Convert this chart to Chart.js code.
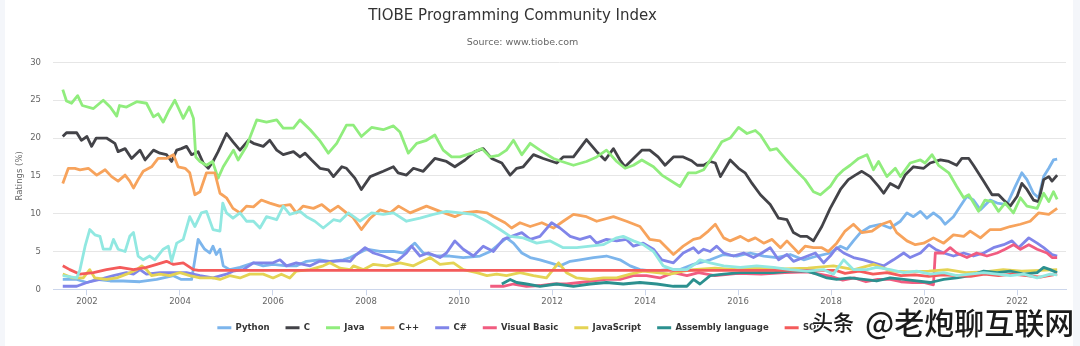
<!DOCTYPE html>
<html>
  <head>
    <meta charset="UTF-8" />
    <title>TIOBE Programming Community Index</title>
    <script src="https://cdn.jsdelivr.net/npm/chart.js"></script>
    <style>
      body { margin:0; background:#f4f6fa; }
      #card { position:absolute; left:5px; top:0; width:1068px; height:346px; background:#fff; }
      .mark { position:absolute; font-family:"Noto Sans CJK SC"; font-weight:500; color:#1b1b1b; line-height:1; white-space:nowrap;
              text-shadow: 0 0 2px #fff, 1px 1px 0 #fff, -1px -1px 0 #fff; }
    </style>
  </head>
  <body>
    <div id="card"><canvas id="tiobe" width="1068" height="346"></canvas></div>
    <div class="mark" style="left:812px;top:311px;font-size:21px">头条</div>
    <div class="mark" style="left:865px;top:306px;font-size:30px">@老炮聊互联网</div>

    <script>
      // monthly ratings (%) as [year, rating]
      var python = [[2001.48,1.3],[2001.78,1.3],[2002.0,0.9],[2002.2,1.3],[2002.5,1.1],[2002.78,1.1],[2003.14,1.0],[2003.5,1.3],[2003.86,1.8],[2004.03,1.3],[2004.25,1.3],[2004.32,3.9],[2004.39,6.6],[2004.53,5.3],[2004.64,4.8],[2004.71,5.7],[2004.78,4.6],[2004.86,5.3],[2004.93,3.1],[2005.07,2.6],[2005.29,2.9],[2005.58,3.5],[2005.79,3.1],[2006.0,3.3],[2006.29,3.1],[2006.5,3.1],[2006.72,3.7],[2007.0,3.9],[2007.22,3.7],[2007.51,3.9],[2007.66,4.2],[2008.01,5.3],[2008.3,5.0],[2008.59,5.0],[2008.8,4.8],[2009.05,6.1],[2009.23,4.8],[2009.52,4.4],[2009.8,4.4],[2010.09,4.2],[2010.45,4.4],[2010.67,5.0],[2010.81,5.7],[2011.02,6.8],[2011.17,6.1],[2011.35,4.8],[2011.53,4.2],[2011.74,3.9],[2011.96,3.5],[2012.17,3.1],[2012.39,3.7],[2012.6,3.9],[2012.89,4.2],[2013.17,4.4],[2013.46,3.9],[2013.68,3.1],[2013.89,2.6],[2014.18,2.4],[2014.47,2.6],[2014.75,2.6],[2015.04,3.3],[2015.4,3.9],[2015.69,4.6],[2015.97,4.4],[2016.26,4.8],[2016.55,4.4],[2016.83,4.2],[2017.12,4.6],[2017.41,3.9],[2017.7,4.4],[2017.98,4.8],[2018.2,5.7],[2018.34,5.3],[2018.48,6.4],[2018.63,7.5],[2018.84,8.3],[2019.06,8.6],[2019.27,8.1],[2019.49,9.0],[2019.63,10.1],[2019.77,9.6],[2019.92,10.3],[2020.06,9.4],[2020.2,10.1],[2020.35,9.4],[2020.45,8.6],[2020.63,9.6],[2020.78,11.0],[2020.92,12.3],[2021.06,11.8],[2021.21,10.5],[2021.42,11.8],[2021.57,11.4],[2021.78,11.2],[2021.96,13.6],[2022.1,15.4],[2022.21,14.5],[2022.35,12.7],[2022.46,12.1],[2022.57,14.9],[2022.68,16.0],[2022.78,17.1],[2022.86,17.2]];

      var langC = [[2001.48,20.2],[2001.56,20.7],[2001.78,20.7],[2001.88,19.7],[2002.0,20.2],[2002.1,18.9],[2002.2,20.0],[2002.42,20.0],[2002.6,19.3],[2002.67,18.2],[2002.82,18.6],[2002.96,17.3],[2003.14,18.4],[2003.25,17.1],[2003.43,18.4],[2003.57,18.0],[2003.71,17.8],[2003.82,16.9],[2003.93,18.4],[2004.03,18.6],[2004.14,18.9],[2004.25,17.8],[2004.39,18.2],[2004.5,16.7],[2004.61,16.0],[2004.71,16.9],[2004.82,18.2],[2005.0,20.6],[2005.14,19.5],[2005.29,18.4],[2005.47,19.7],[2005.58,19.3],[2005.79,18.9],[2005.93,19.7],[2006.08,18.4],[2006.22,17.8],[2006.44,18.2],[2006.58,17.5],[2006.69,18.0],[2006.83,17.1],[2007.01,16.0],[2007.19,15.8],[2007.3,14.9],[2007.48,16.2],[2007.58,16.0],[2007.76,14.7],[2007.9,13.2],[2008.09,14.9],[2008.37,15.6],[2008.59,16.2],[2008.69,15.4],[2008.87,15.1],[2009.02,16.0],[2009.23,15.6],[2009.48,17.3],[2009.73,16.9],[2009.91,16.2],[2010.13,17.1],[2010.34,18.2],[2010.52,18.6],[2010.7,17.3],[2010.92,16.7],[2011.1,15.1],[2011.24,16.0],[2011.38,16.2],[2011.6,17.8],[2011.81,17.3],[2012.1,16.7],[2012.24,17.5],[2012.46,17.5],[2012.74,19.8],[2012.96,18.2],[2013.14,17.1],[2013.32,18.6],[2013.46,17.1],[2013.57,16.2],[2013.75,17.3],[2013.93,18.4],[2014.1,18.4],[2014.28,17.5],[2014.43,16.4],[2014.61,17.5],[2014.82,17.5],[2015.0,17.0],[2015.12,16.4],[2015.26,16.4],[2015.4,16.9],[2015.51,16.7],[2015.62,14.9],[2015.83,17.1],[2016.01,16.0],[2016.15,15.4],[2016.3,14.0],[2016.48,12.5],[2016.69,11.2],[2016.87,9.4],[2017.05,9.2],[2017.19,7.5],[2017.34,7.0],[2017.48,7.0],[2017.62,6.4],[2017.8,8.3],[2017.98,10.7],[2018.2,13.2],[2018.37,14.5],[2018.52,15.1],[2018.66,15.6],[2018.84,14.9],[2019.02,13.6],[2019.13,12.7],[2019.27,14.0],[2019.45,13.4],[2019.59,15.1],[2019.77,16.2],[2019.99,16.0],[2020.13,16.7],[2020.35,17.1],[2020.53,16.9],[2020.7,16.4],[2020.81,17.3],[2020.96,17.3],[2021.06,16.4],[2021.28,14.3],[2021.46,12.5],[2021.6,12.5],[2021.71,11.8],[2021.85,11.0],[2022.0,12.3],[2022.1,14.0],[2022.21,13.2],[2022.35,11.8],[2022.46,11.6],[2022.57,14.5],[2022.68,14.9],[2022.75,14.3],[2022.86,15.1]];

      var java = [[2001.48,26.4],[2001.56,24.9],[2001.67,24.6],[2001.8,25.6],[2001.9,24.3],[2002.14,23.9],[2002.35,25.0],[2002.5,24.1],[2002.64,22.9],[2002.7,24.3],[2002.85,24.1],[2003.07,24.8],[2003.28,24.6],[2003.43,22.8],[2003.53,23.2],[2003.64,22.1],[2003.75,23.5],[2003.89,25.0],[2004.07,22.6],[2004.2,24.1],[2004.29,22.6],[2004.34,17.5],[2004.43,16.9],[2004.57,16.4],[2004.7,16.9],[2004.82,14.7],[2004.93,16.2],[2005.15,18.4],[2005.25,17.1],[2005.43,18.9],[2005.65,22.4],[2005.86,22.1],[2006.08,22.4],[2006.22,21.3],[2006.44,21.3],[2006.58,22.4],[2006.8,21.1],[2007.0,19.7],[2007.19,18.0],[2007.37,19.3],[2007.58,21.7],[2007.73,21.7],[2007.9,20.2],[2008.12,21.4],[2008.37,21.1],[2008.59,21.6],[2008.73,20.8],[2008.91,18.0],[2009.09,19.3],[2009.3,19.7],[2009.48,20.4],[2009.66,18.4],[2009.84,17.5],[2010.02,17.5],[2010.27,18.0],[2010.49,18.6],[2010.67,17.5],[2010.85,17.7],[2011.02,18.4],[2011.17,19.7],[2011.35,17.8],[2011.53,19.3],[2011.74,18.4],[2012.03,17.3],[2012.21,16.9],[2012.46,16.4],[2012.74,16.9],[2012.96,17.5],[2013.17,18.4],[2013.39,16.9],[2013.57,16.0],[2013.75,16.4],[2013.93,17.1],[2014.18,16.2],[2014.36,15.1],[2014.75,13.6],[2014.93,15.4],[2015.1,15.4],[2015.26,15.8],[2015.4,17.1],[2015.54,18.4],[2015.65,19.5],[2015.83,20.0],[2016.01,21.4],[2016.19,20.6],[2016.37,21.0],[2016.48,20.4],[2016.69,18.4],[2016.83,18.6],[2017.01,17.3],[2017.23,15.8],[2017.44,14.5],[2017.62,12.9],[2017.77,12.5],[2017.98,13.6],[2018.12,14.9],[2018.27,15.8],[2018.41,16.4],[2018.59,17.3],[2018.77,17.8],[2018.91,15.8],[2019.02,16.9],[2019.2,14.9],[2019.38,16.0],[2019.49,14.9],[2019.7,16.7],[2019.92,17.1],[2020.02,16.7],[2020.17,17.8],[2020.31,16.4],[2020.53,15.4],[2020.7,13.6],[2020.85,12.1],[2020.96,12.5],[2021.17,10.3],[2021.31,11.8],[2021.46,11.6],[2021.6,10.3],[2021.74,11.4],[2021.92,10.1],[2022.07,12.1],[2022.21,11.0],[2022.43,10.7],[2022.57,12.7],[2022.68,11.6],[2022.78,12.9],[2022.86,11.9]];

      var cpp = [[2001.48,14.0],[2001.6,16.0],[2001.74,16.0],[2001.85,15.8],[2002.03,16.0],[2002.21,15.1],[2002.39,15.8],[2002.53,14.9],[2002.67,14.3],[2002.82,15.1],[2002.92,14.3],[2003.0,13.4],[2003.1,14.5],[2003.21,15.6],[2003.39,16.2],[2003.53,17.3],[2003.71,17.3],[2003.86,17.8],[2003.96,16.2],[2004.11,16.0],[2004.21,15.4],[2004.32,12.5],[2004.43,12.9],[2004.57,15.4],[2004.75,15.4],[2004.86,12.7],[2005.0,12.1],[2005.14,10.7],[2005.29,10.1],[2005.43,11.0],[2005.58,10.9],[2005.75,11.8],[2005.93,11.4],[2006.14,11.0],[2006.37,11.2],[2006.5,10.1],[2006.65,11.0],[2006.87,10.7],[2007.05,11.2],[2007.23,10.3],[2007.4,11.0],[2007.58,10.1],[2007.72,9.5],[2007.9,7.9],[2008.09,9.4],[2008.3,10.5],[2008.52,10.1],[2008.7,11.0],[2008.95,10.1],[2009.3,11.0],[2009.59,10.3],[2009.91,9.6],[2010.09,10.1],[2010.38,10.3],[2010.6,10.1],[2010.74,9.6],[2010.99,8.8],[2011.13,8.1],[2011.31,8.8],[2011.53,8.3],[2011.78,8.8],[2012.03,8.1],[2012.24,9.0],[2012.46,9.9],[2012.74,9.6],[2012.96,9.0],[2013.32,9.6],[2013.6,9.0],[2013.89,8.3],[2014.1,6.6],[2014.32,6.4],[2014.61,4.6],[2014.82,5.7],[2015.04,6.6],[2015.18,6.8],[2015.36,7.7],[2015.51,8.6],[2015.69,6.8],[2015.83,6.4],[2016.05,7.0],[2016.22,6.4],[2016.37,6.8],[2016.55,6.1],[2016.73,6.6],[2016.91,5.5],[2017.05,6.4],[2017.3,4.8],[2017.44,5.7],[2017.62,5.5],[2017.8,5.5],[2017.94,5.0],[2018.12,6.1],[2018.3,7.7],[2018.48,8.6],[2018.66,7.5],[2018.88,7.7],[2019.09,8.6],[2019.27,9.0],[2019.41,7.5],[2019.63,6.4],[2019.81,5.9],[2019.99,6.1],[2020.2,6.8],[2020.42,6.1],[2020.63,7.2],[2020.85,7.0],[2020.99,7.7],[2021.21,6.8],[2021.42,7.9],[2021.64,7.9],[2021.85,8.3],[2022.07,8.6],[2022.28,9.0],[2022.46,10.1],[2022.68,9.9],[2022.86,10.7]];

      var csharp = [[2001.48,0.4],[2001.78,0.4],[2002.0,0.9],[2002.28,1.3],[2002.57,1.8],[2002.85,2.2],[2003.0,2.0],[2003.14,2.6],[2003.28,2.0],[2003.57,2.2],[2003.86,2.2],[2004.14,2.2],[2004.43,1.8],[2004.71,1.5],[2005.0,2.0],[2005.14,2.4],[2005.36,2.6],[2005.58,3.5],[2005.79,3.5],[2006.0,3.5],[2006.15,3.9],[2006.29,3.1],[2006.5,3.5],[2006.8,3.1],[2007.0,3.7],[2007.3,3.7],[2007.51,3.8],[2007.66,3.7],[2007.76,4.4],[2007.98,5.5],[2008.16,4.8],[2008.37,4.4],[2008.66,3.7],[2008.87,4.8],[2008.98,5.7],[2009.16,4.4],[2009.34,4.8],[2009.59,4.2],[2009.73,4.8],[2009.91,6.4],[2010.09,5.3],[2010.31,4.4],[2010.52,5.7],[2010.74,5.0],[2010.95,6.6],[2011.13,7.0],[2011.35,7.5],[2011.53,6.6],[2011.74,7.0],[2011.99,8.8],[2012.17,8.1],[2012.39,7.0],[2012.6,6.6],[2012.82,7.0],[2012.96,6.1],[2013.17,6.6],[2013.39,6.4],[2013.6,6.6],[2013.75,5.7],[2013.96,6.1],[2014.18,5.3],[2014.36,3.9],[2014.61,3.5],[2014.82,4.8],[2015.04,5.5],[2015.15,4.8],[2015.26,5.3],[2015.4,5.0],[2015.54,5.7],[2015.69,4.8],[2015.9,4.4],[2016.12,4.8],[2016.33,4.2],[2016.51,4.8],[2016.69,5.5],[2016.87,3.9],[2017.05,4.6],[2017.19,3.7],[2017.41,4.2],[2017.66,4.8],[2017.84,3.5],[2017.98,4.4],[2018.12,5.5],[2018.27,4.8],[2018.48,4.2],[2018.7,3.9],[2018.91,3.5],[2019.13,3.1],[2019.34,3.9],[2019.56,4.8],[2019.7,4.2],[2019.92,4.8],[2020.1,5.9],[2020.24,5.3],[2020.42,4.8],[2020.63,4.4],[2020.85,4.8],[2021.06,4.4],[2021.28,4.8],[2021.49,5.5],[2021.71,5.9],[2021.89,6.4],[2022.03,5.5],[2022.25,6.8],[2022.43,6.1],[2022.57,5.5],[2022.75,4.6],[2022.86,4.4]];

      var visualBasic = [[2010.67,0.4],[2010.95,0.4],[2011.17,0.7],[2011.45,0.4],[2011.74,0.5],[2012.03,0.7],[2012.31,0.7],[2012.6,0.9],[2012.89,1.1],[2013.17,1.3],[2013.46,1.3],[2013.75,1.8],[2014.03,1.8],[2014.32,1.5],[2014.61,2.2],[2014.9,1.8],[2015.15,2.2],[2015.5,1.8],[2016.0,2.1],[2016.5,2.0],[2017.0,2.2],[2017.5,2.3],[2018.0,1.7],[2018.25,1.2],[2018.5,1.5],[2018.75,1.0],[2019.0,1.3],[2019.27,1.3],[2019.5,1.0],[2019.75,0.9],[2019.99,0.9],[2020.2,0.6],[2020.24,4.8],[2020.42,4.8],[2020.56,5.5],[2020.7,4.8],[2020.92,4.2],[2021.13,4.8],[2021.35,4.4],[2021.57,4.8],[2021.74,5.3],[2021.92,5.9],[2022.07,5.3],[2022.25,5.9],[2022.43,5.3],[2022.64,4.8],[2022.75,4.2],[2022.86,4.2]];

      var javaScript = [[2001.48,2.0],[2001.7,1.5],[2001.92,1.5],[2002.06,2.6],[2002.17,1.5],[2002.42,1.3],[2002.64,1.5],[2002.85,2.0],[2003.07,2.6],[2003.18,3.1],[2003.28,2.6],[2003.39,1.8],[2003.57,2.0],[2003.78,1.8],[2004.0,2.2],[2004.21,1.8],[2004.43,1.5],[2004.71,1.5],[2004.86,1.3],[2005.07,1.8],[2005.29,1.5],[2005.5,2.0],[2005.79,2.0],[2006.0,1.5],[2006.18,2.0],[2006.36,1.5],[2006.5,2.4],[2006.8,2.6],[2007.08,3.1],[2007.22,3.5],[2007.44,2.8],[2007.66,2.6],[2007.73,3.1],[2007.94,2.6],[2008.16,3.3],[2008.44,3.1],[2008.73,3.5],[2009.02,3.1],[2009.38,4.2],[2009.59,3.3],[2009.88,3.5],[2010.09,2.6],[2010.38,2.2],[2010.6,1.8],[2010.81,2.0],[2011.02,1.8],[2011.31,2.2],[2011.6,1.8],[2011.88,1.5],[2012.14,3.5],[2012.31,2.2],[2012.53,1.5],[2012.82,1.3],[2013.1,1.5],[2013.39,1.5],[2013.68,2.0],[2013.96,2.4],[2014.25,2.2],[2014.54,2.0],[2014.82,2.4],[2015.04,2.6],[2015.5,2.8],[2016.0,2.6],[2016.5,2.9],[2017.0,2.7],[2017.5,2.8],[2018.05,3.1],[2018.5,2.6],[2018.91,3.3],[2019.3,2.4],[2019.7,2.3],[2020.1,2.4],[2020.5,2.6],[2020.9,2.2],[2021.3,2.3],[2021.7,2.6],[2022.1,2.4],[2022.5,2.5],[2022.86,2.6]];

      var assembly = [[2010.92,0.7],[2011.1,1.3],[2011.24,0.9],[2011.45,0.7],[2011.74,0.4],[2012.1,0.7],[2012.46,0.4],[2012.82,0.7],[2013.17,0.9],[2013.53,0.7],[2013.89,0.9],[2014.25,0.7],[2014.61,0.4],[2014.9,0.4],[2015.04,1.3],[2015.18,0.7],[2015.4,1.8],[2015.69,2.0],[2016.05,2.2],[2016.4,2.2],[2016.76,2.2],[2017.12,2.4],[2017.48,2.4],[2017.69,2.0],[2017.91,1.5],[2018.12,1.3],[2018.41,1.5],[2018.7,1.3],[2018.98,1.1],[2019.27,1.5],[2019.56,1.3],[2019.84,1.1],[2020.13,0.9],[2020.42,1.3],[2020.7,1.5],[2020.99,1.8],[2021.28,2.4],[2021.57,2.2],[2021.85,2.4],[2022.14,2.0],[2022.43,2.2],[2022.57,2.9],[2022.71,2.6],[2022.86,2.2]];

      // SQL has no values between 2004 and 2018, the line just joins the two ends
      var sql = [[2001.48,3.1],[2001.63,2.6],[2001.85,2.0],[2002.14,2.2],[2002.42,2.6],[2002.71,2.9],[2003.0,2.6],[2003.28,2.9],[2003.5,3.3],[2003.71,3.7],[2003.86,3.3],[2004.07,3.5],[2004.29,2.6],[2004.4,2.5],[2018.1,2.5],[2018.3,2.1],[2018.6,2.4],[2018.9,2.0],[2019.2,2.2],[2019.5,1.8],[2019.8,1.9],[2020.1,1.7],[2020.4,1.9],[2020.7,1.8],[2021.0,1.7],[2021.3,2.0],[2021.6,1.8],[2021.9,2.0],[2022.2,1.8],[2022.5,1.6],[2022.86,2.0]];

      var php = [[2001.48,1.8],[2001.78,1.5],[2001.85,2.6],[2001.96,5.7],[2002.06,7.9],[2002.17,7.2],[2002.28,7.0],[2002.35,5.3],[2002.5,5.3],[2002.57,6.6],[2002.67,5.3],[2002.82,5.0],[2002.92,7.0],[2003.0,7.5],[2003.1,4.4],[2003.21,3.9],[2003.35,4.4],[2003.46,3.9],[2003.64,5.3],[2003.75,5.7],[2003.82,3.7],[2003.93,6.1],[2004.07,6.6],[2004.21,9.6],[2004.32,8.3],[2004.46,10.1],[2004.57,10.3],[2004.71,7.9],[2004.86,7.7],[2004.92,11.4],[2005.0,10.1],[2005.14,9.4],[2005.29,10.1],[2005.43,9.0],[2005.58,9.0],[2005.72,8.1],[2005.86,9.6],[2006.08,9.2],[2006.22,11.0],[2006.36,9.9],[2006.58,10.3],[2006.72,9.6],[2006.9,9.0],[2007.08,8.1],[2007.3,9.2],[2007.44,9.0],[2007.62,10.1],[2007.87,9.0],[2008.12,10.1],[2008.37,9.9],[2008.59,10.1],[2008.87,9.0],[2009.16,9.4],[2009.45,9.9],[2009.73,10.3],[2010.02,10.1],[2010.31,9.9],[2010.6,9.0],[2010.88,7.9],[2011.1,7.0],[2011.38,6.8],[2011.67,6.1],[2011.96,6.4],[2012.24,5.5],[2012.53,5.5],[2012.82,5.7],[2013.1,5.9],[2013.39,6.8],[2013.53,7.0],[2013.75,6.4],[2013.96,5.9],[2014.18,5.0],[2014.39,3.1],[2014.61,2.6],[2014.9,2.6],[2015.11,3.5],[2015.18,3.9],[2015.4,3.5],[2015.69,3.1],[2016.05,2.9],[2016.4,3.1],[2016.76,2.9],[2017.12,2.6],[2017.48,2.4],[2017.84,2.6],[2018.05,2.0],[2018.27,3.9],[2018.48,2.6],[2018.77,2.6],[2018.98,2.9],[2019.27,2.6],[2019.56,2.2],[2019.84,2.4],[2020.13,2.0],[2020.42,2.2],[2020.7,1.8],[2020.99,2.0],[2021.28,2.2],[2021.57,2.0],[2021.85,1.8],[2022.14,2.0],[2022.43,1.5],[2022.71,2.0],[2022.86,1.9]];

      var seriesNames = ['Python', 'C', 'Java', 'C++', 'C#', 'Visual Basic', 'JavaScript', 'Assembly language', 'SQL', 'PHP'];
      var seriesData = [python, langC, java, cpp, csharp, visualBasic, javaScript, assembly, sql, php];
      var yearTicks = [2002, 2004, 2006, 2008, 2010, 2012, 2014, 2016, 2018, 2020, 2022];

      // highcharts default palette
      var colors = ['#7cb5ec', '#434348', '#90ed7d', '#f7a35c', '#8085e9', '#f15c80', '#e4d354', '#2b908f', '#f45b5b', '#91e8e1'];
      var font = '"DejaVu Sans", sans-serif';

      var datasets = seriesNames.map(function(name, i){
        return {
          label: name,
          data: seriesData[i].map(function(p){ return {x: p[0], y: p[1]}; }),
          borderColor: colors[i],
          backgroundColor: colors[i],
          borderWidth: 2.8,
          pointRadius: 0,
          tension: 0,
          borderJoinStyle: 'round',
          order: -i   // later series on top
        };
      });

      // title, subtitle and legend sit a bit left of the canvas centre
      var boxShift = {
        id: 'boxShift',
        afterLayout: function(chart){
          chart.boxes.forEach(function(b){
            var dx = 0;
            if (b === chart.legend) dx = -19;
            else if (b.options && b.options.text === 'TIOBE Programming Community Index') dx = -26;
            else if (b.options && b.options.text === 'Source: www.tiobe.com') dx = -16;
            b.left += dx;
            b.right += dx;
          });
        }
      };

      new Chart(document.getElementById('tiobe'), {
        type: 'line',
        data: { datasets: datasets },
        plugins: [boxShift],
        options: {
          responsive: false,
          animation: false,
          layout: { padding: { left: 6, right: 7, top: 0, bottom: 4 } },
          plugins: {
            title: {
              display: true,
              text: 'TIOBE Programming Community Index',
              color: '#333333',
              font: { family: font, size: 15, weight: 'normal' },
              padding: { top: 7, bottom: 12 }
            },
            subtitle: {
              display: true,
              text: 'Source: www.tiobe.com',
              color: '#666666',
              font: { family: font, size: 9.5 },
              padding: { top: 0, bottom: 14 }
            },
            legend: {
              position: 'bottom',
              labels: {
                color: '#333333',
                font: { family: font, size: 8.5, weight: 'bold' },
                boxWidth: 14,
                boxHeight: 3,
                padding: 16,
                sort: function(a, b){ return a.datasetIndex - b.datasetIndex; },
                filter: function(item){ return item.text !== 'PHP'; },
                generateLabels: function(chart){
                  var items = Chart.defaults.plugins.legend.labels.generateLabels(chart);
                  items.forEach(function(it){ it.lineWidth = 0; });
                  return items;
                }
              }
            },
            tooltip: { enabled: false }
          },
          scales: {
            x: {
              type: 'linear',
              min: 2001.27,
              max: 2023.05,
              afterBuildTicks: function(scale){
                scale.ticks = yearTicks.map(function(v){ return {value: v}; });
              },
              ticks: {
                color: '#666666',
                font: { family: font, size: 8.5 },
                padding: 1,
                maxRotation: 0,
                callback: function(v){ return String(v); }
              },
              grid: { drawOnChartArea: false, color: '#ccd6eb', tickLength: 6 },
              border: { color: '#ccd6eb' }
            },
            y: {
              min: 0,
              max: 30,
              afterFit: function(scale){ scale.width = 42; },
              ticks: {
                stepSize: 5,
                color: '#666666',
                font: { family: font, size: 8.5 },
                padding: 12
              },
              grid: { color: '#e6e6e6', drawTicks: false },
              border: { display: false },
              title: {
                display: true,
                text: 'Ratings (%)',
                color: '#666666',
                font: { family: font, size: 8.5 },
                padding: { top: 4, bottom: 4 }
              }
            }
          }
        }
      });
    </script>
  </body>
</html>
